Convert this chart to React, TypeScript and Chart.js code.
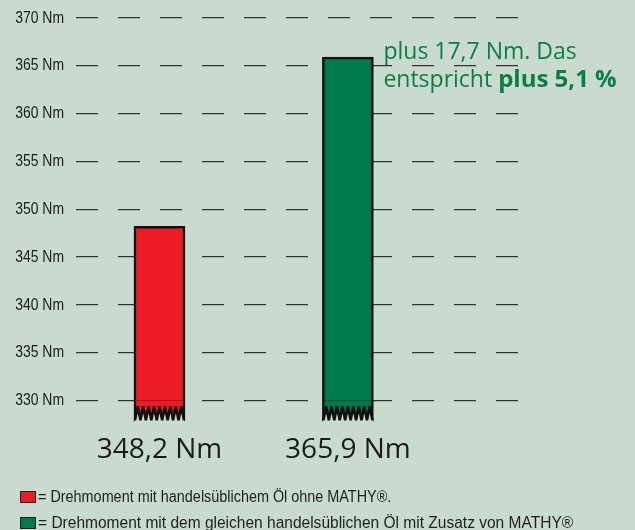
import React, { useEffect, useRef } from "react";
import { Chart, registerables } from "chart.js";

Chart.register(...registerables);

const categories = ["348,2 Nm", "365,9 Nm"];
const values = [348.2, 365.9];
const barColors = ["#ed1c24", "#007a4a"];
const yTicks = [330, 335, 340, 345, 350, 355, 360, 365, 370];
const yUnit = " Nm";
const annotationLine1 = "plus 17,7 Nm. Das";
const annotationLine2a = "entspricht ";
const annotationLine2b = "plus 5,1 %";
const legendTexts = [
  "= Drehmoment mit handelsüblichem Öl ohne MATHY®.",
  "= Drehmoment mit dem gleichen handelsüblichen Öl mit Zusatz von MATHY®",
];

const Y_MIN = 327.78;
const Y_MAX = 370;
const BG = "#c9dbcf";
const TEXT_GREEN = "#0b7d4a";
const NARROW = "'Liberation Sans', Arial, sans-serif";
const SQUEEZE = 0.82;
const LEGEND_SQUEEZE = [0.9, 0.97];
const SANS = "'Open Sans', 'Noto Sans', sans-serif";

const decorPlugin = {
  id: "decor",
  afterDatasetsDraw(chart: any) {
    const ctx = chart.ctx as CanvasRenderingContext2D;
    const meta = chart.getDatasetMeta(0);
    const yScale = chart.scales.y;
    const yBase = yScale.getPixelForValue(yTicks[0]);

    // condensed y tick labels
    ctx.save();
    ctx.fillStyle = "#1a1a1a";
    ctx.font = `17px ${NARROW}`;
    ctx.textAlign = "right";
    ctx.textBaseline = "middle";
    yTicks.forEach((v) => {
      const py = yScale.getPixelForValue(v);
      ctx.save();
      ctx.translate(chart.chartArea.left - 12, py);
      ctx.scale(SQUEEZE, 1);
      ctx.fillText(v + yUnit, 0, 0);
      ctx.restore();
    });
    ctx.restore();

    meta.data.forEach((bar: any) => {
      const { x, width, base } = bar.getProps(["x", "width", "base"], true);
      const left = x - width / 2;
      const right = x + width / 2;
      ctx.save();
      ctx.strokeStyle = "rgba(0,0,0,0.3)";
      ctx.lineWidth = 1;
      ctx.beginPath();
      ctx.moveTo(left + 2, yBase);
      ctx.lineTo(right - 2, yBase);
      ctx.stroke();

      const n = 9;
      const p = (width - 2) / n;
      const h = 14;
      const vb = base - 1.5;
      const pts: [number, number][] = [[left + 1, vb]];
      for (let i = 0; i < n; i++) {
        pts.push([left + 1 + (i + 0.5) * p, vb - h]);
        pts.push([left + 1 + (i + 1) * p, vb]);
      }
      ctx.beginPath();
      ctx.moveTo(left - 3, base + 4);
      pts.forEach(([px, py]) => ctx.lineTo(px, py));
      ctx.lineTo(right + 3, base + 4);
      ctx.closePath();
      ctx.fillStyle = BG;
      ctx.fill();

      ctx.beginPath();
      pts.forEach(([px, py], i) => (i ? ctx.lineTo(px, py) : ctx.moveTo(px, py)));
      ctx.strokeStyle = "#111";
      ctx.lineWidth = 2.6;
      ctx.lineJoin = "miter";
      ctx.miterLimit = 2;
      ctx.stroke();
      ctx.restore();
    });

    const last = meta.data[meta.data.length - 1];
    if (last) {
      const { x, y, width } = last.getProps(["x", "y", "width"], true);
      const tx = x + width / 2 + 10;
      ctx.save();
      ctx.fillStyle = TEXT_GREEN;
      ctx.textBaseline = "alphabetic";
      ctx.textAlign = "left";
      ctx.font = `23px ${SANS}`;
      ctx.fillText(annotationLine1, tx, y + 2);
      ctx.fillText(annotationLine2a, tx, y + 30);
      const w = ctx.measureText(annotationLine2a).width;
      ctx.font = `bold 24px ${SANS}`;
      ctx.fillText(annotationLine2b, tx + w, y + 30);
      ctx.restore();
    }
  },
};

export default function App() {
  const ref = useRef<HTMLCanvasElement>(null);
  useEffect(() => {
    const chart = new Chart(ref.current as HTMLCanvasElement, {
      type: "bar",
      data: {
        datasets: [
          {
            data: values.map((v, i) => ({ x: i, y: v })),
            backgroundColor: barColors,
            borderColor: "#111",
            borderWidth: 2.5,
            borderSkipped: false,
            barThickness: 51,
            base: Y_MIN,
          } as any,
        ],
      },
      options: {
        animation: false,
        responsive: false,
        maintainAspectRatio: false,
        layout: { padding: { top: 18, right: 113, bottom: 0, left: 0 } },
        plugins: { legend: { display: false }, tooltip: { enabled: false } },
        scales: {
          x: {
            type: "linear",
            offset: false,
            min: -0.443,
            max: 1.924,
            grid: { display: false, offset: false },
            border: { display: false },
            afterBuildTicks: (s: any) => {
              s.ticks = categories.map((_, i) => ({ value: i }));
            },
            afterFit: (s: any) => {
              s.height = 108.3;
            },
            ticks: {
              callback: (_v: any, i: number) => categories[i] ?? "",
              font: { family: SANS, size: 28 },
              color: "#1b1b1b",
              padding: 4,
              maxRotation: 0,
              autoSkip: false,
            },
          },
          y: {
            min: Y_MIN,
            max: Y_MAX,
            afterBuildTicks: (s: any) => {
              s.ticks = yTicks.map((v) => ({ value: v }));
            },
            afterFit: (s: any) => {
              s.width = 76;
            },
            grid: { color: "#333", lineWidth: 1.3, drawTicks: false },
            border: { display: false, dash: [22, 20] },
            ticks: { display: false },
          },
        },
      } as any,
      plugins: [decorPlugin],
    });
    return () => chart.destroy();
  }, []);

  return (
    <div
      style={{
        position: "absolute",
        left: 0,
        top: 0,
        width: 635,
        height: 530,
        background: BG,
        overflow: "hidden",
      }}
    >
      <canvas ref={ref} width={635} height={530} style={{ display: "block" }} />
      {legendTexts.map((t, i) => (
        <div
          key={i}
          style={{
            position: "absolute",
            left: 20,
            top: 488 + i * 26,
            height: 17,
            display: "flex",
            alignItems: "center",
            whiteSpace: "nowrap",
          }}
        >
          <span
            style={{
              display: "inline-block",
              boxSizing: "border-box",
              width: 16,
              height: 12,
              background: barColors[i],
              border: "1.5px solid #222",
              marginRight: 2,
            }}
          />
          <span
            style={{
              display: "inline-block",
              fontFamily: NARROW,
              fontSize: 16,
              color: "#1e1e1e",
              transform: `scaleX(${LEGEND_SQUEEZE[i]})`,
              transformOrigin: "left center",
            }}
          >
            {t}
          </span>
        </div>
      ))}
    </div>
  );
}
